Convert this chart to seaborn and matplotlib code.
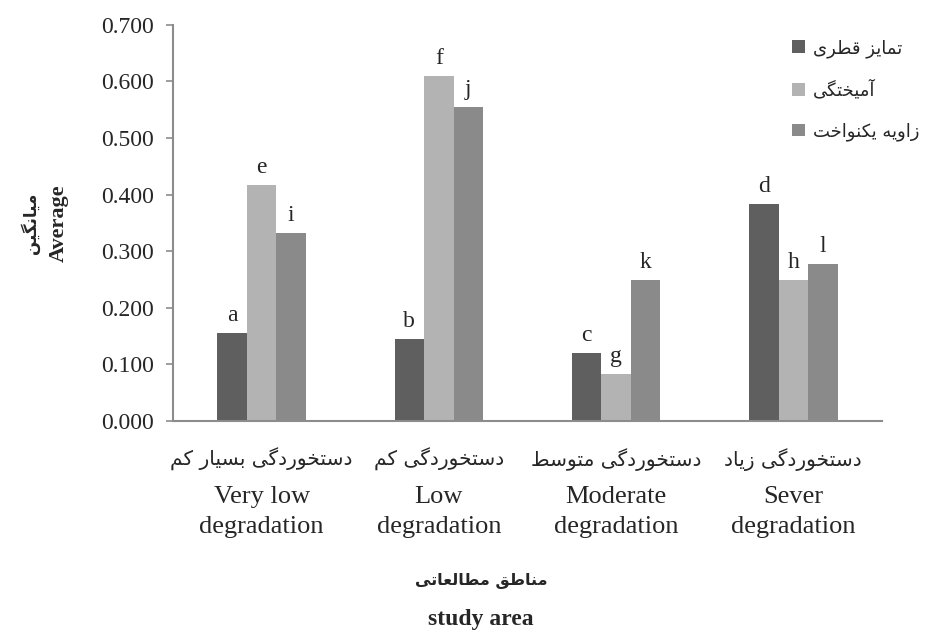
import matplotlib
matplotlib.use("Agg")
import matplotlib.pyplot as plt
import seaborn as sns
import pandas as pd

# data
areas_en = ["Very low\ndegradation", "Low\ndegradation", "Moderate\ndegradation", "Sever\ndegradation"]
areas_fa = ["دستخوردگی بسیار کم", "دستخوردگی کم", "دستخوردگی متوسط", "دستخوردگی زیاد"]
methods = ["تمایز قطری", "آمیختگی", "زاویه یکنواخت"]
fractal = [0.155, 0.145, 0.120, 0.383]
mixing = [0.417, 0.610, 0.084, 0.249]
uniform = [0.333, 0.554, 0.250, 0.277]
letters = [["a", "b", "c", "d"], ["e", "f", "g", "h"], ["i", "j", "k", "l"]]
colors = ["#5f5f5f", "#b3b3b3", "#8a8a8a"]

# matplotlib has no Arabic shaping, so map letters to presentation forms
FORMS = {
    "\u0627": ("\uFE8D", "\uFE8E", None, None),
    "\u0622": ("\uFE81", "\uFE82", None, None),
    "\u0628": ("\uFE8F", "\uFE90", "\uFE91", "\uFE92"),
    "\u062A": ("\uFE95", "\uFE96", "\uFE97", "\uFE98"),
    "\u062E": ("\uFEA5", "\uFEA6", "\uFEA7", "\uFEA8"),
    "\u062F": ("\uFEA9", "\uFEAA", None, None),
    "\u0631": ("\uFEAD", "\uFEAE", None, None),
    "\u0632": ("\uFEAF", "\uFEB0", None, None),
    "\u0633": ("\uFEB1", "\uFEB2", "\uFEB3", "\uFEB4"),
    "\u0637": ("\uFEC1", "\uFEC2", "\uFEC3", "\uFEC4"),
    "\u0639": ("\uFEC9", "\uFECA", "\uFECB", "\uFECC"),
    "\u0642": ("\uFED5", "\uFED6", "\uFED7", "\uFED8"),
    "\u06A9": ("\uFB8E", "\uFB8F", "\uFB90", "\uFB91"),
    "\u06AF": ("\uFB92", "\uFB93", "\uFB94", "\uFB95"),
    "\u0644": ("\uFEDD", "\uFEDE", "\uFEDF", "\uFEE0"),
    "\u0645": ("\uFEE1", "\uFEE2", "\uFEE3", "\uFEE4"),
    "\u0646": ("\uFEE5", "\uFEE6", "\uFEE7", "\uFEE8"),
    "\u0647": ("\uFEE9", "\uFEEA", "\uFEEB", "\uFEEC"),
    "\u0648": ("\uFEED", "\uFEEE", None, None),
    "\u06CC": ("\uFBFC", "\uFBFD", "\uFBFE", "\uFBFF"),
}


def fa(text):
    text = text.replace("\u0643", "\u06A9").replace("\u064A", "\u06CC").replace("\u0649", "\u06CC")
    out = []
    for i, ch in enumerate(text):
        forms = FORMS.get(ch)
        if forms is None:
            out.append(ch)
            continue
        prev = text[i - 1] if i > 0 else ""
        nxt = text[i + 1] if i + 1 < len(text) else ""
        join_prev = prev in FORMS and FORMS[prev][2] is not None
        join_next = forms[2] is not None and nxt in FORMS
        if join_prev and join_next:
            out.append(forms[3])
        elif join_prev:
            out.append(forms[1])
        elif join_next:
            out.append(forms[2])
        else:
            out.append(forms[0])
    return "".join(reversed(out))


df = pd.DataFrame({
    "area": areas_en * 3,
    "method": [m for m in methods for _ in areas_en],
    "value": fractal + mixing + uniform,
})

sns.set_style("white")
plt.rcParams["font.family"] = ["Liberation Serif", "DejaVu Sans"]

fig = plt.figure(figsize=(9.25, 6.38), dpi=100)
ax = fig.add_axes([0.187, 0.34, 0.7665, 0.6212])

sns.barplot(data=df, x="area", y="value", hue="method", order=areas_en,
            hue_order=methods, palette=colors, width=0.5, saturation=1,
            linewidth=0, ax=ax)

for cont, labs in zip(ax.containers, letters):
    ax.bar_label(cont, labels=labs, padding=5, fontsize=17)

ax.set_ylim(0, 0.7)
ax.set_yticks([i / 10 for i in range(8)])
ax.set_yticklabels([f"{i / 10:.3f}" for i in range(8)], fontsize=17)
ax.tick_params(axis="y", length=5, width=1.2, color="#8c8c8c", pad=9, left=True)
ax.tick_params(axis="x", length=0, pad=47, labelsize=19)
for t in ax.get_xticklabels():
    t.set_linespacing(1.45)

for s in ["top", "right"]:
    ax.spines[s].set_visible(False)
for s in ["left", "bottom"]:
    ax.spines[s].set_color("#8c8c8c")
    ax.spines[s].set_linewidth(1.5)

# Persian line above each English category name
for i, lab in enumerate(areas_fa):
    ax.annotate(fa(lab), xy=(i, 0), xycoords=("data", "axes fraction"),
                xytext=(0, -27.5), textcoords="offset points", ha="center",
                va="center", fontsize=14.5, family="DejaVu Sans")

ax.set_ylabel("Average", fontsize=16, fontweight="bold", labelpad=23)
ax.annotate(fa("میانگین"), xy=(0, 0.5), xycoords="axes fraction",
            xytext=(-103, 0), textcoords="offset points", rotation=90,
            ha="center", va="center", fontsize=12, fontweight="bold",
            family="DejaVu Sans")

ax.set_xlabel("study area", fontsize=17, fontweight="bold")
ax.xaxis.set_label_coords((481 - 173) / 709, -0.474)
ax.annotate(fa("مناطق مطالعاتی"), xy=((481 - 173) / 709, 0),
            xycoords="axes fraction", xytext=(0, -115), textcoords="offset points",
            ha="center", va="center", fontsize=11.5, fontweight="bold",
            family="DejaVu Sans")

leg = ax.legend(handles=[c.patches[0] for c in ax.containers],
                labels=[fa(m) for m in methods], loc="upper left",
                bbox_to_anchor=(792 / 925, 1 - 39 / 638),
                bbox_transform=fig.transFigure, frameon=False, fontsize=13,
                handlelength=0.7, handleheight=0.7, handletextpad=0.45,
                labelspacing=1.25, borderpad=0, borderaxespad=0)
for t in leg.get_texts():
    t.set_family("DejaVu Sans")

fig.savefig("out.png", dpi=100)
